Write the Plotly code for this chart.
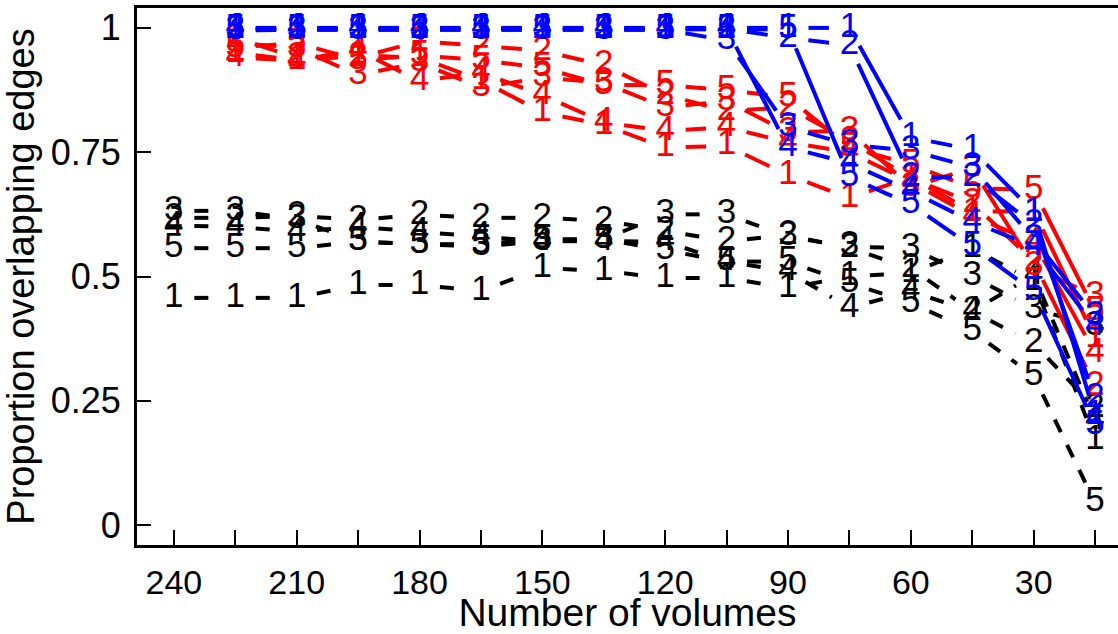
import math
import plotly.graph_objects as go

# ---------------- data ----------------
volumes_black = [240, 225, 210, 195, 180, 165, 150, 135, 120, 105, 90, 75, 60, 45, 30, 15]
volumes_color = [225, 210, 195, 180, 165, 150, 135, 120, 105, 90, 75, 60, 45, 30, 15]

black_1 = [0.457, 0.457, 0.457, 0.483, 0.483, 0.471, 0.517, 0.511, 0.497, 0.497, 0.477, 0.50, 0.507, 0.557, 0.49, 0.17]
black_2 = [0.618, 0.618, 0.622, 0.614, 0.624, 0.618, 0.618, 0.612, 0.592, 0.571, 0.583, 0.557, 0.517, 0.43, 0.366, 0.235]
black_3 = [0.632, 0.632, 0.615, 0.57, 0.565, 0.56, 0.571, 0.575, 0.625, 0.625, 0.58, 0.56, 0.557, 0.50, 0.435, 0.40]
black_4 = [0.602, 0.60, 0.59, 0.60, 0.59, 0.58, 0.571, 0.571, 0.57, 0.53, 0.51, 0.437, 0.47, 0.43, 0.503, 0.21]
black_5 = [0.557, 0.557, 0.557, 0.57, 0.565, 0.565, 0.575, 0.575, 0.553, 0.53, 0.53, 0.487, 0.447, 0.39, 0.30, 0.045]

red_1 = [0.95, 0.935, 0.945, 0.94, 0.895, 0.83, 0.805, 0.759, 0.763, 0.704, 0.658, 0.70, 0.63, 0.632, 0.376]
red_2 = [0.98, 0.94, 0.94, 0.973, 0.964, 0.954, 0.925, 0.865, 0.833, 0.84, 0.773, 0.698, 0.648, 0.53, 0.28]
red_3 = [0.97, 0.96, 0.905, 0.93, 0.88, 0.90, 0.89, 0.84, 0.853, 0.79, 0.793, 0.68, 0.718, 0.52, 0.46]
red_4 = [0.94, 0.935, 0.955, 0.893, 0.91, 0.865, 0.81, 0.793, 0.80, 0.77, 0.75, 0.69, 0.622, 0.57, 0.346]
red_5 = [0.96, 0.97, 0.935, 0.945, 0.935, 0.92, 0.885, 0.885, 0.875, 0.86, 0.76, 0.725, 0.678, 0.674, 0.43]

blue_1 = [1.0, 1.0, 1.0, 1.0, 1.0, 1.0, 1.0, 1.0, 1.0, 1.0, 1.0, 0.78, 0.755, 0.63, 0.22]
blue_2 = [0.998, 0.998, 0.998, 0.998, 0.998, 0.998, 0.998, 0.998, 0.998, 0.98, 0.965, 0.70, 0.70, 0.605, 0.255]
blue_3 = [0.995, 0.996, 0.996, 0.996, 0.996, 0.996, 0.996, 0.996, 0.975, 0.80, 0.765, 0.753, 0.72, 0.575, 0.42]
blue_4 = [0.999, 0.999, 0.999, 0.999, 0.999, 0.999, 0.999, 0.999, 0.999, 0.76, 0.728, 0.672, 0.61, 0.56, 0.40]
blue_5 = [0.997, 0.997, 0.997, 0.997, 0.997, 0.997, 0.997, 0.997, 0.997, 0.997, 0.70, 0.645, 0.56, 0.47, 0.20]

x_tick_vals = [240, 225, 210, 195, 180, 165, 150, 135, 120, 105, 90, 75, 60, 45, 30, 15]
x_tick_text = ["240", "", "210", "", "180", "", "150", "", "120", "", "90", "", "60", "", "30", ""]
y_tick_vals = [0, 0.25, 0.5, 0.75, 1]
y_tick_text = ["0", "0.25", "0.5", "0.75", "1"]

x_label = "Number of volumes"
y_label = "Proportion overlapping edges"

# ---------------- layout geometry ----------------
W, H = 1118, 634
ML, MT, MB, MR = 137, 8, 89, 0
XR = [249, 9.4]
YR = [-0.04, 1.04]
plot_w = W - ML - MR
plot_h = H - MT - MB
sx = plot_w / abs(XR[1] - XR[0])
sy = plot_h / (YR[1] - YR[0])
GAP = 20.5  # pixel gap around each plotted character (R type="b")

FONT = "Liberation Sans, Arial, Helvetica, sans-serif"


def gapped(xs, ys):
    lx, ly = [], []
    for i in range(len(xs) - 1):
        dx = xs[i + 1] - xs[i]
        dy = ys[i + 1] - ys[i]
        d = math.hypot(dx * sx, dy * sy)
        if d <= 2 * GAP:
            continue
        f = GAP / d
        lx += [xs[i] + dx * f, xs[i + 1] - dx * f, None]
        ly += [ys[i] + dy * f, ys[i + 1] - dy * f, None]
    return lx, ly


groups = [
    ("black", "#000000", "14px,14px", volumes_black, [black_1, black_2, black_3, black_4, black_5]),
    ("red", "#FF0000", "solid", volumes_color, [red_1, red_2, red_3, red_4, red_5]),
    ("blue", "#0000FF", "solid", volumes_color, [blue_1, blue_2, blue_3, blue_4, blue_5]),
]

fig = go.Figure()
for name, color, dash, xs, series in groups:
    for k, ys in enumerate(series, start=1):
        lx, ly = gapped(xs, ys)
        fig.add_trace(go.Scatter(
            x=lx, y=ly, mode="lines",
            line=dict(color=color, width=4, dash=dash),
            hoverinfo="skip", showlegend=False, connectgaps=False,
        ))
        fig.add_trace(go.Scatter(
            x=xs, y=ys, mode="text", text=[str(k)] * len(xs),
            textposition="middle center",
            textfont=dict(family=FONT, size=35, color=color),
            hoverinfo="skip", showlegend=False,
        ))

fig.update_layout(
    width=W, height=H,
    margin=dict(l=ML, r=MR, t=MT, b=MB, pad=0),
    paper_bgcolor="white", plot_bgcolor="white",
    font=dict(family=FONT, color="black"),
    xaxis=dict(
        range=XR, tickmode="array", tickvals=x_tick_vals, ticktext=x_tick_text,
        ticks="inside", ticklen=15, tickwidth=2, tickcolor="black",
        showline=True, linewidth=3, linecolor="black", mirror=True,
        showgrid=False, zeroline=False,
        tickfont=dict(family=FONT, size=34, color="black"),
        ticklabelstandoff=5,
        title=dict(text=x_label, font=dict(family=FONT, size=39, color="black"), standoff=3),
    ),
    yaxis=dict(
        range=YR, tickmode="array", tickvals=y_tick_vals, ticktext=y_tick_text,
        ticks="inside", ticklen=14, tickwidth=2, tickcolor="black",
        showline=True, linewidth=3, linecolor="black", mirror=False,
        showgrid=False, zeroline=False,
        tickfont=dict(family=FONT, size=36, color="black"),
        ticklabelstandoff=6,
        title=dict(text=y_label, font=dict(family=FONT, size=38, color="black"), standoff=8),
    ),
)

fig.write_html("out.html")
